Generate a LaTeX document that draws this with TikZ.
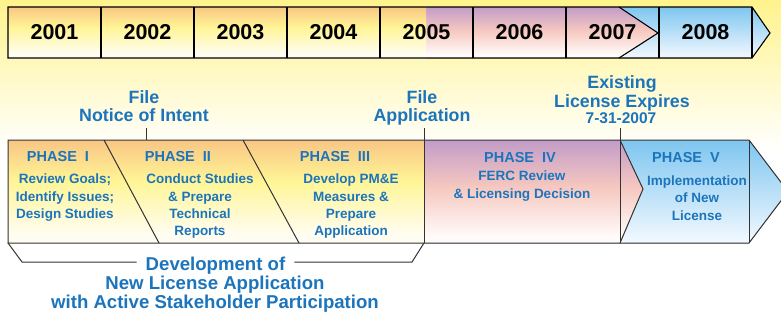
\documentclass[tikz,border=0pt]{standalone}
\usepackage{fontspec}
\setmainfont{Liberation Sans}
\usepackage{tikz}
\usetikzlibrary{positioning}
\definecolor{bgyellow}{RGB}{255,243,140}
\definecolor{txtblue}{RGB}{28,117,188}
\definecolor{warmTop}{RGB}{249,198,132}
\definecolor{warmMid}{RGB}{255,245,150}
\definecolor{warmBot}{RGB}{255,253,242}
\definecolor{roseTop}{RGB}{194,156,200}
\definecolor{roseMid}{RGB}{246,200,192}
\definecolor{roseBot}{RGB}{255,251,250}
\definecolor{skyTop}{RGB}{126,198,240}
\definecolor{skyBot}{RGB}{244,249,255}
\pgfdeclareverticalshading{warmshade}{100bp}{color(0bp)=(warmBot); color(29bp)=(warmBot); color(55bp)=(warmMid); color(75bp)=(warmTop); color(100bp)=(warmTop)}
\pgfdeclareverticalshading{roseshade}{100bp}{color(0bp)=(roseBot); color(28bp)=(roseBot); color(52bp)=(roseMid); color(75bp)=(roseTop); color(100bp)=(roseTop)}
\pgfdeclareverticalshading{skyshade}{100bp}{color(0bp)=(skyBot); color(25bp)=(skyBot); color(75bp)=(skyTop); color(100bp)=(skyTop)}

\begin{document}
\begin{tikzpicture}[x=1pt, y=-1pt,
  year/.style = {font=\fontsize{21.5}{22}\selectfont\bfseries, inner sep=0pt},
  head/.style = {font=\fontsize{14.5}{17}\selectfont\bfseries, text=txtblue, inner sep=0pt, anchor=north},
  body/.style = {font=\fontsize{13.5}{17.3}\selectfont\bfseries, text=txtblue, inner sep=0pt, anchor=north, align=center},
  note/.style = {font=\fontsize{17.8}{18.8}\selectfont\bfseries, text=txtblue, inner sep=0pt, anchor=north, align=center},
  date/.style = {font=\fontsize{15.5}{16}\selectfont\bfseries, text=txtblue, inner sep=0pt, anchor=north},
  big/.style = {font=\fontsize{18.6}{19.3}\selectfont\bfseries, text=txtblue, inner sep=0pt, anchor=north, align=center},
  bar/.style = {draw=black, line width=1.1pt},
  rule/.style = {draw=black!80, line width=1pt},
  warm/.style = {shading=warmshade},
  rose/.style = {shading=roseshade},
  sky/.style = {shading=skyshade}]
\useasboundingbox (0,0) rectangle (781,322);
\clip (0,0) rectangle (781,322);
\fill[top color=bgyellow, bottom color=white] (0,0) rectangle (781,150);
\fill[white] (0,150) rectangle (781,322);

% years
\fill[sky] (619,7) -- (752,7) -- (770,33) -- (752,58) -- (619,58) -- cycle;
\fill[rose] (426,7) -- (619,7) -- (658,33) -- (619,58) -- (426,58) -- cycle;
\fill[warm] (8,7) rectangle (426,58);
\draw[bar] (8,7) -- (752,7) -- (770,33) -- (752,58) -- (8,58) -- cycle;
\draw[bar] (619,7) -- (658,33) -- (619,58);
\foreach \x in {101,194,287,380,473,566,659,752}
  \draw[bar] (\x,7) -- (\x,58);
\foreach \y [count=\i from 0] in {2001,2002,2003,2004,2005,2006,2007,2008}
  \node[year] (y\i) at ({54.5+93*\i},32.5) {\y};

% phases
\coordinate (lt) at (8,140);
\coordinate (lb) at (8,243);
\fill[sky] (620,140) -- (749,140) -- (788,191.5) -- (749,243) -- (620,243) -- cycle;
\fill[rose] (424,140) -- (620,140) -- (643,189) -- (620,243) -- (424,243) -- cycle;
\fill[warm] (lt) rectangle (424,243);
\draw[rule] (lt) -- (749,140) -- (788,191.5) -- (749,243) -- (lb) -- cycle;
\draw[rule] (104,140) -- (159,243);
\draw[rule] (243,140) -- (299,243);
\draw[rule] (620,140) -- (643,189) -- (620,243);
\draw[rule] (749,140) -- (749,243);

\node[head] (h1) at (58,151.5) {PHASE~~I};
\node[body] (b1) at (65,174) {Review Goals;\\Identify Issues;\\Design Studies};
\node[head] (h2) at (178,151.5) {PHASE~~II};
\node[body] (b2) at (200,174) {Conduct Studies\\\& Prepare\\Technical\\Reports};
\node[head] (h3) at (335,151.5) {PHASE~~III};
\node[body] (b3) at (351,174) {Develop PM\&E\\Measures \&\\Prepare\\Application};
\node[head] (h4) at (520,152.3) {PHASE~~IV};
\node[body] (b4) at (522,171) {FERC Review\\\& Licensing Decision};
\node[head] (h5) at (686,152.5) {PHASE~~V};
\node[body] (b5) at (697,175.5) {Implementation\\of New\\License};

% milestones
\node[note] (noi) at (144,90) {File\\Notice of Intent};
\node[note] (app) at (422,90) {File\\Application};
\node[note] (exp) at (622,75.5) {Existing\\License Expires};
\node[date] (exd) at (621,112.5) {7-31-2007};
\coordinate (t1) at (146,128);
\coordinate (t2) at (424,128);
\coordinate (t3) at (620,128);
\draw[rule] (t1) -- (t1 |- lt);
\draw[rule] (t2) -- (t2 |- lb);
\draw[rule] (t3) -- (t3 |- lb);

% development bracket
\node[big, inner xsep=9pt] (dev1) at (215.5,256.7) {Development of};
\node[big] (dev2) at (215,275.7) {New License Application\\with Active Stakeholder Participation};
\coordinate (bl) at (22,262);
\coordinate (br) at (412,262);
\draw[rule] (lb) -- (bl) -- (bl -| dev1.west);
\draw[rule] (br -| dev1.east) -- (br) -- (424,243);
\end{tikzpicture}
\end{document}
